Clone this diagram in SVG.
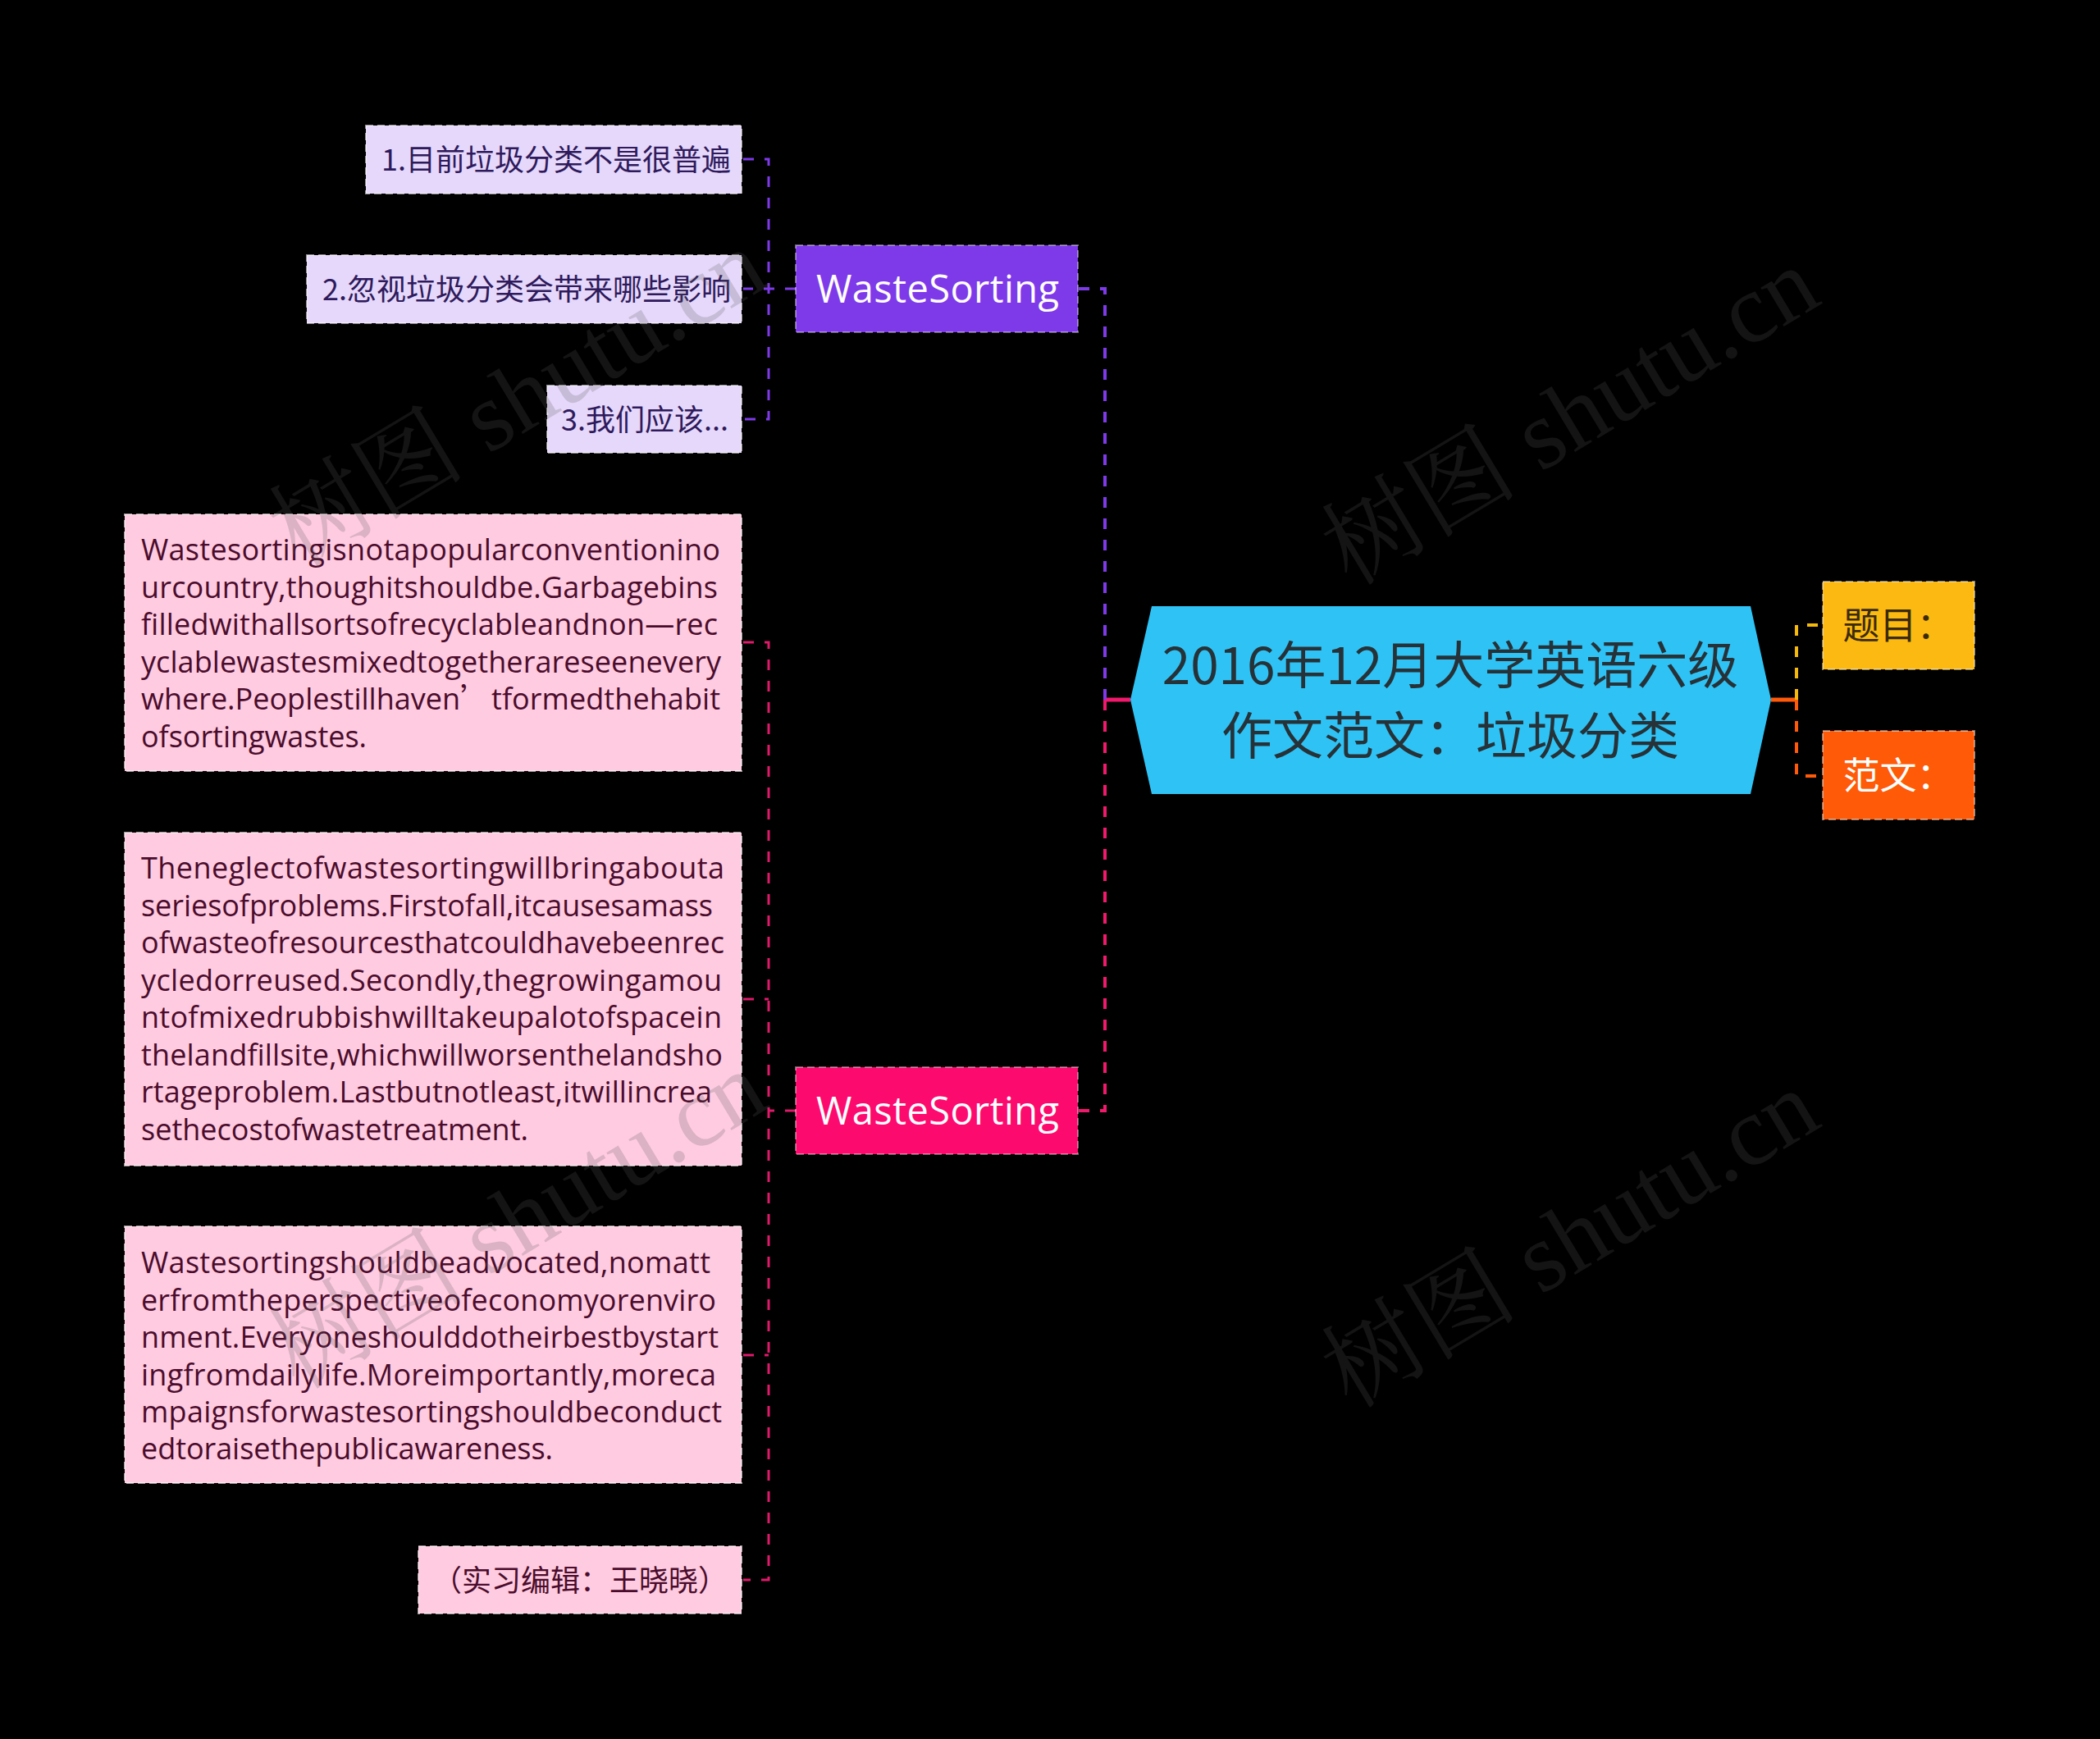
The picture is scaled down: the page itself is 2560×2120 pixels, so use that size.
<svg xmlns="http://www.w3.org/2000/svg" width="2560" height="2120" viewBox="0 0 2560 2120">
<style>
.cjk{font-family:"Noto Sans CJK SC","Noto Sans",sans-serif}
.lat{font-family:"Open Sans","Noto Sans","Noto Sans CJK SC",sans-serif}
.para{font-family:"Open Sans","Noto Sans","Noto Sans CJK SC",sans-serif;font-size:36px;fill:#4a0c2c}
.pleaf{fill:#e6d8fa;stroke:#ffffff;stroke-opacity:.55;stroke-width:2;stroke-dasharray:9 5}
.kleaf{fill:#ffcbe0;stroke:#ffffff;stroke-opacity:.6;stroke-width:2;stroke-dasharray:9 5}
.dash{fill:none;stroke-dasharray:13 13}
.wm{font-family:"Liberation Serif","Noto Serif CJK SC","Noto Sans CJK SC",serif;font-size:120px;fill:#5a5a5a;fill-opacity:.22}
</style>
<rect x="0" y="0" width="2560" height="2120" fill="#000"/>

<g id="connectors">
  <path d="M1378,853 H1347" stroke="#f0196c" stroke-width="5" fill="none"/>
  <path class="dash" d="M1347,853 V352 H1314" stroke="#7e3ae9" stroke-width="4"/>
  <path class="dash" d="M1347,853 V1354 H1314" stroke="#f0196c" stroke-width="4"/>
  <path d="M2159,853 H2190" stroke="#ff5a0a" stroke-width="5" fill="none"/>
  <path class="dash" d="M2190,853 V762 H2222" stroke="#f5b90c" stroke-width="4"/>
  <path class="dash" d="M2190,853 V946 H2222" stroke="#ff5a0a" stroke-width="4"/>
  <path class="dash" d="M906,194 H937 V511 H906" stroke="#7e3ae9" stroke-width="3"/>
  <path class="dash" d="M970,352 H906" stroke="#7e3ae9" stroke-width="3"/>
  <path class="dash" d="M906,783 H937 V1926 H906" stroke="#e0196a" stroke-width="3"/>
  <path class="dash" d="M906,1218 H937" stroke="#e0196a" stroke-width="3"/>
  <path class="dash" d="M906,1652 H937" stroke="#e0196a" stroke-width="3"/>
  <path class="dash" d="M970,1354 H937" stroke="#e0196a" stroke-width="3"/>
</g>

<g id="root">
  <path d="M1378,853 L1404,739 L2134,739 L2159,853 L2134,968 L1404,968 Z" fill="#2fc3f5"/>
  <text class="cjk" x="1768" y="834" font-size="62" fill="#263238" text-anchor="middle">2016年12月大学英语六级</text>
  <text class="cjk" x="1768" y="920" font-size="62" fill="#263238" text-anchor="middle">作文范文：垃圾分类</text>
</g>

<g id="timu">
  <rect x="2222" y="709" width="185" height="107" fill="#fbb912" stroke="#fff" stroke-opacity=".45" stroke-width="2" stroke-dasharray="9 5"/>
  <text class="cjk" x="2314" y="779" font-size="45" fill="#3a2a05" text-anchor="middle">题目：</text>
</g>
<g id="fanwen">
  <rect x="2222" y="891" width="185" height="108" fill="#fe5a08" stroke="#fff" stroke-opacity=".45" stroke-width="2" stroke-dasharray="9 5"/>
  <text class="cjk" x="2314" y="962" font-size="45" fill="#ffffff" text-anchor="middle">范文：</text>
</g>

<g id="ws1">
  <rect x="970" y="299" width="344" height="106" fill="#7e3ae9" stroke="#fff" stroke-opacity=".4" stroke-width="2" stroke-dasharray="9 5"/>
  <text class="lat" x="1143" y="369" font-size="47" fill="#ffffff" text-anchor="middle" textLength="296">WasteSorting</text>
</g>
<g id="ws2">
  <rect x="970" y="1301" width="344" height="106" fill="#fd0a6e" stroke="#fff" stroke-opacity=".4" stroke-width="2" stroke-dasharray="9 5"/>
  <text class="lat" x="1143" y="1371" font-size="47" fill="#ffffff" text-anchor="middle" textLength="296">WasteSorting</text>
</g>

<g id="p1">
  <rect class="pleaf" x="446" y="153" width="458" height="83"/>
  <text class="cjk" x="678" y="208" font-size="36" fill="#2e1a5c" text-anchor="middle">1.目前垃圾分类不是很普遍</text>
</g>
<g id="p2">
  <rect class="pleaf" x="374" y="311" width="530" height="83"/>
  <text class="cjk" x="642" y="366" font-size="36" fill="#2e1a5c" text-anchor="middle">2.忽视垃圾分类会带来哪些影响</text>
</g>
<g id="p3">
  <rect class="pleaf" x="667" y="470" width="237" height="82"/>
  <text class="cjk" x="786" y="525" font-size="36" fill="#2e1a5c" text-anchor="middle">3.我们应该...</text>
</g>

<g id="k1">
  <rect class="kleaf" x="152" y="627" width="752" height="313"/>
  <text class="para">
    <tspan x="172" y="683" textLength="706">Wastesortingisnotapopularconventionino</tspan>
    <tspan x="172" y="728.5" textLength="703">urcountry,thoughitshouldbe.Garbagebins</tspan>
    <tspan x="172" y="774" textLength="703">filledwithallsortsofrecyclableandnon—rec</tspan>
    <tspan x="172" y="819.5" textLength="707">yclablewastesmixedtogetherareseenevery</tspan>
    <tspan x="172" y="865">where.Peoplestillhaven<tspan font-family="Noto Sans CJK SC, sans-serif">’</tspan></tspan>
    <tspan x="599" y="865" textLength="279">tformedthehabit</tspan>
    <tspan x="172" y="910.5" textLength="275">ofsortingwastes.</tspan>
  </text>
</g>
<g id="k2">
  <rect class="kleaf" x="152" y="1015" width="752" height="406"/>
  <text class="para">
    <tspan x="172" y="1071" textLength="711">Theneglectofwastesortingwillbringabouta</tspan>
    <tspan x="172" y="1116.5" textLength="697">seriesofproblems.Firstofall,itcausesamass</tspan>
    <tspan x="172" y="1162" textLength="711">ofwasteofresourcesthatcouldhavebeenrec</tspan>
    <tspan x="172" y="1207.5" textLength="708">ycledorreused.Secondly,thegrowingamou</tspan>
    <tspan x="172" y="1253" textLength="708">ntofmixedrubbishwilltakeupalotofspacein</tspan>
    <tspan x="172" y="1298.5" textLength="709">thelandfillsite,whichwillworsenthelandsho</tspan>
    <tspan x="172" y="1344" textLength="696">rtageproblem.Lastbutnotleast,itwillincrea</tspan>
    <tspan x="172" y="1389.5" textLength="472">sethecostofwastetreatment.</tspan>
  </text>
</g>
<g id="k3">
  <rect class="kleaf" x="152" y="1495" width="752" height="313"/>
  <text class="para">
    <tspan x="172" y="1552" textLength="694">Wastesortingshouldbeadvocated,nomatt</tspan>
    <tspan x="172" y="1597.5" textLength="701">erfromtheperspectiveofeconomyorenviro</tspan>
    <tspan x="172" y="1643" textLength="704">nment.Everyoneshoulddotheirbestbystart</tspan>
    <tspan x="172" y="1688.5" textLength="701">ingfromdailylife.Moreimportantly,moreca</tspan>
    <tspan x="172" y="1734" textLength="708">mpaignsforwastesortingshouldbeconduct</tspan>
    <tspan x="172" y="1779" textLength="502">edtoraisethepublicawareness.</tspan>
  </text>
</g>
<g id="k4">
  <rect class="kleaf" x="510" y="1885" width="394" height="82"/>
  <text class="cjk" x="707" y="1940" font-size="36" fill="#4a0c2c" text-anchor="middle">（实习编辑：王晓晓）</text>
</g>

<g id="watermarks">
  <text class="wm" x="652" y="520" text-anchor="middle" transform="rotate(-31 652 520)">树图 shutu.cn</text>
  <text class="wm" x="1935" y="542" text-anchor="middle" transform="rotate(-31 1935 542)">树图 shutu.cn</text>
  <text class="wm" x="652" y="1522" text-anchor="middle" transform="rotate(-31 652 1522)">树图 shutu.cn</text>
  <text class="wm" x="1935" y="1545" text-anchor="middle" transform="rotate(-31 1935 1545)">树图 shutu.cn</text>
</g>
</svg>
